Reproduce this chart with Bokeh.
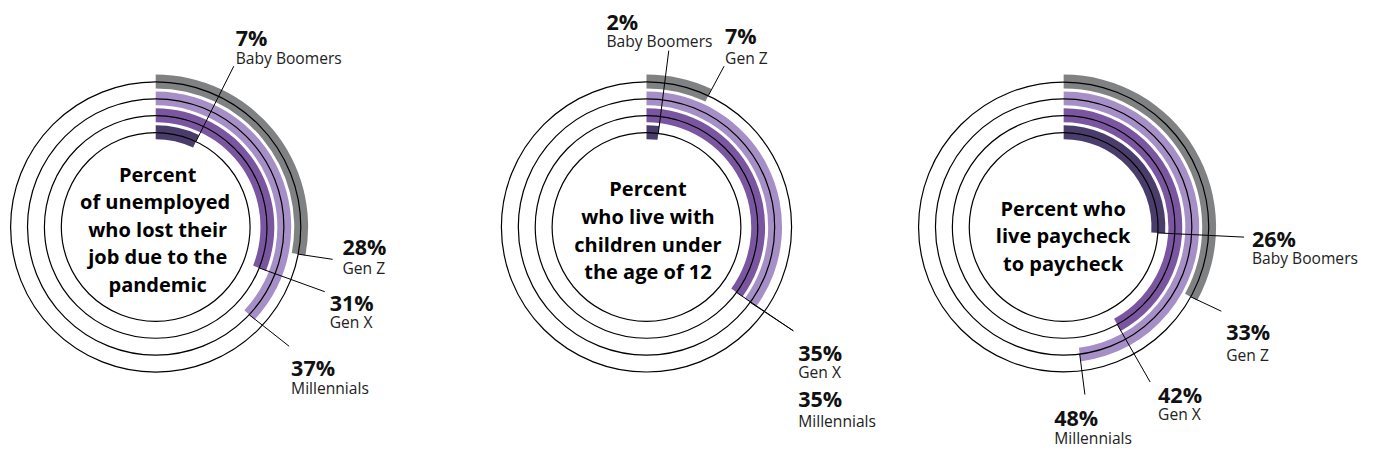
import math
from bokeh.plotting import figure
from bokeh.models import Range1d, ColumnDataSource
from bokeh.embed import file_html
from bokeh.resources import INLINE
from bokeh.core.properties import value

# ---------------- data ----------------
generations = ["Gen Z", "Millennials", "Gen X", "Baby Boomers"]
gen_colors = ["#808183", "#a68ec6", "#7b56a0", "#4a3d6b"]

title_lost_job = ["Percent", "of  unemployed", "who lost their", "job due to the", "pandemic"]
title_children = ["Percent", "who live with", "children under", "the age of 12"]
title_paycheck = ["Percent who", "live paycheck", "to paycheck"]

lost_job = [28, 37, 31, 7]          # Gen Z, Millennials, Gen X, Baby Boomers
with_children = [7, 35, 35, 2]
paycheck = [33, 48, 42, 26]

charts = [
    (title_lost_job, lost_job),
    (title_children, with_children),
    (title_paycheck, paycheck),
]

# ---------------- layout (reference 1393x468 pixel space as data space) ----------------
RW, RH = 1393, 468          # reference picture size
W, H = 1377, 452            # figure size that fits the window
sx, sy = W / RW, H / RH
g = math.sqrt(sx * sy)      # screen scale used for radii and fonts

def py(Y):
    return RH - Y

def rad(r):                 # reference-pixel radius -> data units (x dimension)
    return r * g / sx

centers = [(157, 234.5), (653.5, 234.5), (1075.5, 234.5)]
ring_r = [148.5, 131.2, 113.9, 96.6]
band_in, band_out = 6.7, 7.5

title_x = [159, 655, 1075]
title_base = [[180, 208.5, 237, 265.5, 294], [195, 223.7, 252.3, 281], [215, 243.5, 272]]

leader_end = [
    [(336, 268), (292, 358), (328, 301.5), (236, 68)],
    [(732, 68), (802, 342), (802, 342), (676, 52)],
    [(1235, 321.7), (1097, 408), (1163, 395), (1258, 245)],
]
label_pos = [  # x, baseline of percent, baseline of name
    [(346, 255, 276.5), (294, 380, 401.5), (333, 313, 333), (238, 38, 60)],
    [(733, 36, 60), (807, 411.7, 435), (807, 364.7, 385), (613, 21.7, 42)],
    [(1240, 343, 366.7), (1066, 431.5, 453), (1171, 408, 428), (1266, 246, 267)],
]

def fs(v):
    return f"{v * g:.1f}px"

p = figure(width=W, height=H, x_range=Range1d(0, RW), y_range=Range1d(0, RH),
           output_backend="svg", toolbar_location=None, min_border=0,
           x_axis_location=None, y_axis_location=None)
p.grid.visible = False
p.outline_line_color = None
p.background_fill_color = "white"
p.border_fill_color = "white"

font = value("Open Sans")

for ci, (title, vals) in enumerate(charts):
    cx, cy = centers[ci][0], py(centers[ci][1])
    # arcs
    src = ColumnDataSource(dict(
        x=[cx] * 4, y=[cy] * 4,
        inner=[rad(r - band_in) for r in ring_r],
        outer=[rad(r + band_out) for r in ring_r],
        start=[math.pi / 2] * 4,
        end=[math.pi / 2 - 2 * math.pi * v / 100.0 for v in vals],
        color=gen_colors,
    ))
    p.annular_wedge(x="x", y="y", inner_radius="inner", outer_radius="outer",
                    start_angle="start", end_angle="end", direction="clock",
                    fill_color="color", line_color=None, source=src)
    # circles
    p.circle(x=[cx] * 4, y=[cy] * 4, radius=[rad(r) for r in ring_r], fill_color=None,
             line_color="black", line_width=1.2)
    # leader lines (start at the end of each arc, on its ring)
    x0, y0, x1, y1 = [], [], [], []
    for gi, v in enumerate(vals):
        th = 2 * math.pi * v / 100.0
        x0.append(cx + ring_r[gi] * g / sx * math.sin(th))
        y0.append(cy + ring_r[gi] * g / sy * math.cos(th))
        x1.append(leader_end[ci][gi][0])
        y1.append(py(leader_end[ci][gi][1]))
    p.segment(x0=x0, y0=y0, x1=x1, y1=y1, line_color="black", line_width=1)
    # labels
    lx = [label_pos[ci][gi][0] for gi in range(4)]
    p.text(x=lx, y=[py(label_pos[ci][gi][1]) for gi in range(4)],
           text=[f"{v}%" for v in vals], text_font=font, text_font_style="bold",
           text_font_size=fs(22), text_color="#111111", text_baseline="alphabetic",
           text_align="left")
    p.text(x=lx, y=[py(label_pos[ci][gi][2]) for gi in range(4)],
           text=generations, text_font=font, text_font_size=fs(16),
           text_color="#222222", text_baseline="alphabetic", text_align="left")
    # title
    p.text(x=[title_x[ci]] * len(title), y=[py(b) for b in title_base[ci]],
           text=title, text_font=font, text_font_style="bold", text_font_size=fs(20.5),
           text_color="#000000", text_baseline="alphabetic", text_align="center")

open("out.html", "w").write(file_html(p, INLINE))
